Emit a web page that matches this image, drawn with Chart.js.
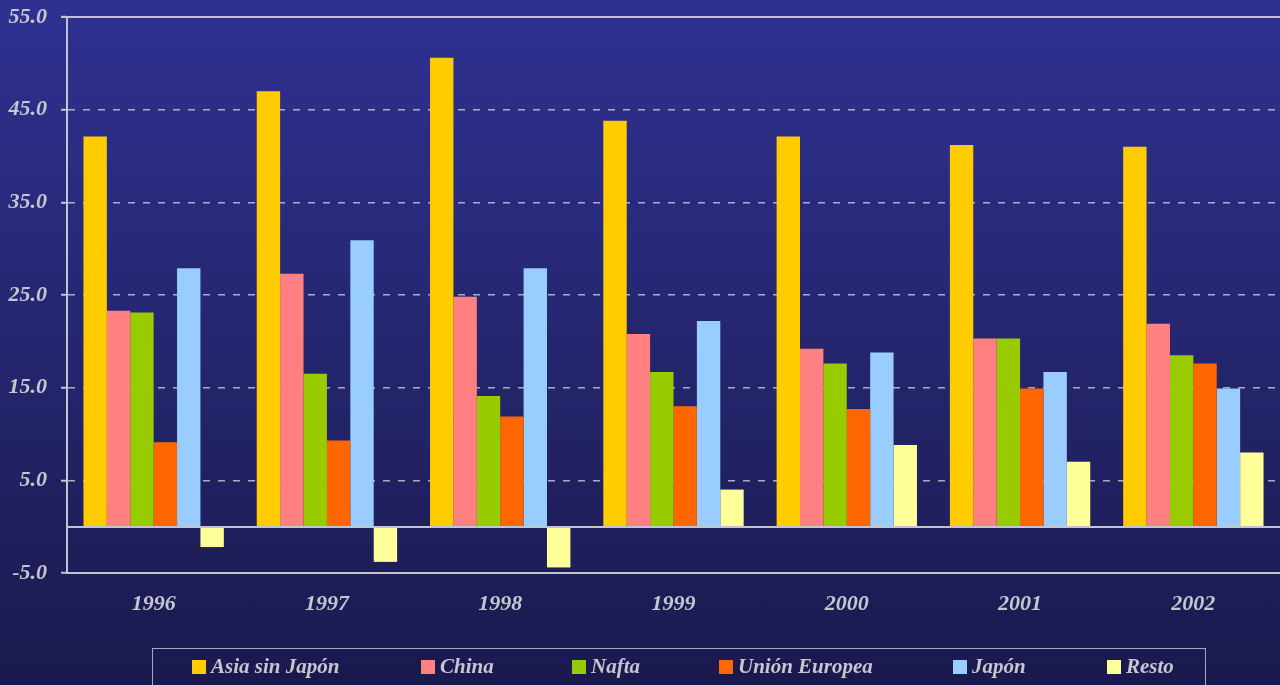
<!DOCTYPE html>
<html>
<head>
<meta charset="utf-8">
<script src="https://cdn.jsdelivr.net/npm/chart.js@4"></script>
<style>
  html, body { margin: 0; padding: 0; }
  body {
    width: 1280px; height: 685px; overflow: hidden; position: relative;
    background: linear-gradient(to bottom, #2f3192 0%, #25266f 50%, #1a194e 100%);
  }
  #wrap { position: absolute; left: 0; top: 0; width: 1280px; height: 685px; }
  #legend {
    position: absolute; left: 152px; top: 648px; width: 1054px; height: 50px;
    border: 1px solid #a8a8bc; box-sizing: border-box;
  }
  .item {
    position: absolute; top: 5px; height: 36px; line-height: 36px; white-space: nowrap;
    font: italic bold 21px "Liberation Serif", serif; color: #c6c6ce;
  }
  .item i {
    display: inline-block; width: 14px; height: 14px; margin-right: 5px; vertical-align: -1px;
  }
</style>
</head>
<body>
<div id="wrap"><canvas id="chart" width="1280" height="685"></canvas></div>
<div id="legend"></div>
<script>
// Exportaciones: participación por destino (%)
const years = ["1996", "1997", "1998", "1999", "2000", "2001", "2002"];
const asiaSinJapon = [42.1, 47.0, 50.6, 43.8, 42.1, 41.2, 41.0];
const china = [23.3, 27.3, 24.8, 20.8, 19.2, 20.3, 21.9];
const nafta = [23.1, 16.5, 14.1, 16.7, 17.6, 20.3, 18.5];
const unionEuropea = [9.1, 9.3, 11.9, 13.0, 12.7, 14.9, 17.6];
const japon = [27.9, 30.9, 27.9, 22.2, 18.8, 16.7, 14.9];
const resto = [-2.2, -3.8, -4.4, 4.0, 8.8, 7.0, 8.0];

const yTicks = [-5, 5, 15, 25, 35, 45, 55];

const seriesNames = ["Asia sin Japón", "China", "Nafta", "Unión Europea", "Japón", "Resto"];
const seriesColors = ["#ffcc00", "#ff8080", "#99cc00", "#ff6600", "#99ccff", "#ffff99"];
const seriesValues = [asiaSinJapon, china, nafta, unionEuropea, japon, resto];

// legend item offsets inside the box (px)
const legendX = [39, 268, 419, 566, 800, 954];

const FONT = { family: "'Liberation Serif', serif", size: 22, style: "italic", weight: "bold" };
const TXT = "#c6c6ce";
const LINE = "#c4c4cc";

// solid lines at 0 and at the top of the plot
const extraLines = {
  id: "extraLines",
  afterDatasetsDraw(chart) {
    const { ctx, chartArea, scales } = chart;
    ctx.save();
    ctx.strokeStyle = LINE;
    ctx.lineWidth = 2;
    [0, 55].forEach(v => {
      const y = Math.round(scales.y.getPixelForValue(v));
      ctx.beginPath();
      ctx.moveTo(v === 55 ? chartArea.left - 6 : chartArea.left, y);
      ctx.lineTo(chartArea.right, y);
      ctx.stroke();
    });
    ctx.restore();
  }
};

new Chart(document.getElementById("chart"), {
  type: "bar",
  data: {
    labels: years,
    datasets: seriesNames.map((name, i) => ({
      label: name,
      data: seriesValues[i],
      backgroundColor: seriesColors[i],
      borderWidth: 0,
      categoryPercentage: 0.81,
      barPercentage: 1.0
    }))
  },
  options: {
    responsive: false,
    animation: false,
    layout: { padding: { top: 17, right: 0, left: 0, bottom: 0 } },
    plugins: { legend: { display: false }, tooltip: { enabled: false } },
    scales: {
      x: {
        grid: { display: false },
        border: { display: true, color: LINE, width: 2 },
        ticks: { color: TXT, font: FONT, padding: 10, maxRotation: 0 },
        afterFit: s => { s.height = 112; s.paddingLeft = 0; s.paddingRight = 0; }
      },
      y: {
        min: -5,
        max: 55,
        afterBuildTicks: s => { s.ticks = yTicks.map(v => ({ value: v })); },
        grid: { color: "rgba(196,196,210,0.85)", lineWidth: 1.5, tickLength: 6, tickColor: LINE, tickWidth: 2 },
        border: { display: true, color: LINE, width: 2, dash: [7, 8] },
        ticks: { color: TXT, font: FONT, padding: 14, callback: v => Number(v).toFixed(1) },
        afterFit: s => { s.width = 67; s.paddingTop = 0; s.paddingBottom = 0; }
      }
    }
  },
  plugins: [extraLines]
});

const legend = document.getElementById("legend");
seriesNames.forEach((name, i) => {
  const el = document.createElement("div");
  el.className = "item";
  el.style.left = legendX[i] + "px";
  el.innerHTML = '<i style="background:' + seriesColors[i] + '"></i>' + name;
  legend.appendChild(el);
});
</script>
</body>
</html>
